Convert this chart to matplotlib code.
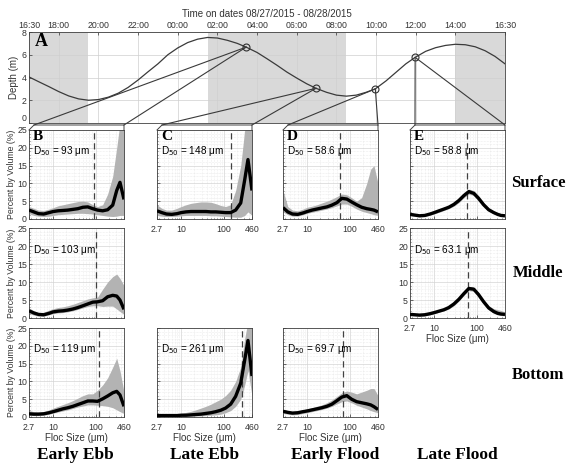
import matplotlib.pyplot as plt
from matplotlib.lines import Line2D
from matplotlib.ticker import NullFormatter, MultipleLocator

plt.rcParams['font.family'] = ['Liberation Sans', 'DejaVu Sans']

# ---- panel A: tidal depth (hours after 16:30 on 08/27) ----
tide_t = [0, 0.5, 1, 1.5, 2, 2.5, 3, 3.5, 4, 4.5, 5, 5.5, 6, 6.5, 7, 7.5, 8, 8.5, 9,
          9.5, 10, 10.5, 10.95, 11.5, 12, 12.5, 13, 13.5, 14, 14.47, 15, 15.5, 16,
          16.5, 17, 17.46, 18, 18.5, 19, 19.47, 20, 20.5, 21, 21.5, 22, 22.5, 23,
          23.5, 24]
tide_d = [4.05, 3.62, 3.2, 2.76, 2.38, 2.12, 2.0, 2.06, 2.27, 2.62, 3.13, 3.78, 4.5,
          5.2, 6.0, 6.6, 7.07, 7.37, 7.52, 7.47, 7.27, 7.0, 6.67, 6.2, 5.65, 5.08,
          4.48, 3.95, 3.45, 3.05, 2.7, 2.45, 2.36, 2.45, 2.7, 3.0, 3.7, 4.45, 5.2,
          5.77, 6.3, 6.62, 6.82, 6.92, 6.88, 6.7, 6.35, 5.85, 5.2]
night_start = [0, 9.05, 21.5]
night_end = [3.0, 16.0, 24]
sample_t = [10.95, 14.47, 17.46, 19.47]
sample_d = [6.67, 3.05, 3.0, 5.77]
time_ticks = [0, 1.5, 3.5, 5.5, 7.5, 9.5, 11.5, 13.5, 15.5, 17.5, 19.5, 21.5, 24]
time_labels = ['16:30', '18:00', '20:00', '22:00', '00:00', '02:00', '04:00',
               '06:00', '08:00', '10:00', '12:00', '14:00', '16:30']

# ---- floc size distributions ----
sizes = [2.7, 3.5, 4.5, 6, 8, 10, 13, 17, 22, 29, 38, 50, 65, 85, 110, 145, 190,
         250, 310, 370, 460]

b_surf_mean = [2.5, 2.0, 1.5, 1.4, 1.8, 2.1, 2.3, 2.4, 2.5, 2.7, 2.9, 3.3, 3.4, 2.9, 2.5, 2.3, 2.6, 3.9, 8.0, 10.3, 5.5]
b_surf_hi = [3.5, 3.0, 2.5, 2.4, 2.8, 3.2, 3.7, 4.0, 4.3, 4.6, 4.9, 5.0, 4.8, 4.0, 3.5, 4.0, 7.0, 12.0, 20.0, 27.0, 27.0]
b_surf_lo = [1.5, 1.0, 0.8, 0.7, 0.8, 1.0, 1.2, 1.3, 1.4, 1.5, 1.6, 1.6, 1.5, 1.4, 1.2, 1.0, 0.8, 0.7, 0.8, 1.0, 1.0]

c_surf_mean = [2.3, 1.8, 1.4, 1.3, 1.5, 1.8, 2.0, 2.1, 2.1, 2.1, 2.1, 2.0, 2.0, 1.9, 1.8, 1.8, 2.5, 4.5, 11.0, 16.7, 8.0]
c_surf_hi = [4.0, 3.0, 2.5, 2.5, 3.0, 3.5, 4.0, 4.4, 4.6, 4.8, 4.8, 4.7, 4.3, 3.8, 3.5, 4.0, 8.0, 15.0, 25.0, 27.0, 27.0]
c_surf_lo = [1.0, 0.8, 0.7, 0.7, 0.8, 0.9, 1.0, 1.0, 1.0, 1.0, 1.0, 0.9, 0.9, 0.8, 0.7, 0.6, 0.5, 0.5, 1.0, 2.0, 1.0]

d_surf_mean = [3.2, 2.0, 1.4, 1.3, 1.7, 2.1, 2.5, 2.8, 3.1, 3.4, 3.9, 4.6, 5.8, 5.6, 4.8, 4.0, 3.3, 2.9, 2.7, 2.5, 2.0]
d_surf_hi = [8.0, 3.5, 2.5, 2.3, 2.8, 3.3, 3.6, 4.0, 4.5, 5.0, 5.6, 6.3, 7.0, 6.8, 6.0, 5.0, 6.0, 10.0, 14.0, 15.0, 10.0]
d_surf_lo = [2.0, 1.2, 0.8, 0.8, 1.2, 1.6, 1.9, 2.2, 2.5, 2.8, 3.2, 3.7, 4.2, 4.2, 3.6, 2.8, 2.2, 1.8, 1.5, 1.2, 1.0]

e_surf_mean = [1.3, 1.1, 0.9, 1.0, 1.4, 1.8, 2.3, 2.8, 3.3, 4.1, 5.2, 6.6, 7.7, 7.2, 5.8, 4.0, 2.6, 1.8, 1.3, 1.0, 0.9]
e_surf_hi = [1.8, 1.5, 1.3, 1.4, 1.8, 2.3, 2.8, 3.3, 3.8, 4.7, 5.8, 7.2, 8.4, 8.0, 6.6, 4.6, 3.1, 2.2, 1.7, 1.5, 1.4]
e_surf_lo = [1.0, 0.8, 0.6, 0.7, 1.1, 1.4, 1.9, 2.4, 2.9, 3.6, 4.6, 6.0, 7.0, 6.6, 5.2, 3.5, 2.2, 1.5, 1.0, 0.7, 0.6]

b_mid_mean = [2.0, 1.4, 1.0, 0.9, 1.3, 1.7, 1.9, 2.0, 2.2, 2.5, 2.9, 3.4, 3.9, 4.4, 4.5, 4.8, 5.9, 6.3, 6.1, 5.0, 2.4]
b_mid_hi = [2.8, 2.0, 1.5, 1.6, 2.2, 2.6, 2.9, 3.1, 3.4, 3.8, 4.3, 4.8, 5.3, 5.6, 5.8, 8.0, 10.0, 11.5, 12.2, 11.0, 9.0]
b_mid_lo = [1.3, 0.8, 0.5, 0.5, 0.9, 1.2, 1.4, 1.5, 1.7, 2.0, 2.4, 2.8, 3.2, 3.4, 3.4, 3.2, 3.3, 3.3, 2.5, 1.8, 1.0]

e_mid_mean = [1.0, 0.9, 0.8, 0.9, 1.2, 1.5, 1.9, 2.3, 2.9, 3.9, 5.2, 6.8, 8.2, 8.0, 6.5, 4.5, 2.8, 1.8, 1.3, 1.1, 1.0]
e_mid_hi = [1.4, 1.3, 1.2, 1.3, 1.6, 1.9, 2.3, 2.7, 3.3, 4.4, 5.7, 7.3, 8.8, 8.6, 7.1, 5.1, 3.4, 2.6, 2.3, 2.1, 1.6]
e_mid_lo = [0.7, 0.6, 0.5, 0.6, 0.9, 1.2, 1.6, 2.0, 2.5, 3.4, 4.7, 6.3, 7.6, 7.4, 6.0, 4.0, 2.3, 1.3, 0.9, 0.7, 0.6]

b_bot_mean = [0.9, 0.8, 0.8, 0.9, 1.2, 1.5, 1.9, 2.3, 2.6, 3.0, 3.5, 4.0, 4.5, 4.5, 4.4, 5.1, 5.9, 6.8, 7.2, 6.2, 3.0]
b_bot_hi = [1.8, 1.5, 1.4, 1.5, 2.0, 2.5, 3.0, 3.5, 4.0, 4.6, 5.3, 6.0, 6.5, 6.5, 7.5, 9.0, 11.0, 14.0, 16.5, 13.0, 7.0]
b_bot_lo = [0.5, 0.4, 0.4, 0.5, 0.8, 1.1, 1.4, 1.7, 2.0, 2.4, 2.8, 3.1, 3.4, 3.4, 3.3, 3.2, 3.0, 2.6, 2.0, 1.5, 1.0]

c_bot_mean = [0.4, 0.4, 0.4, 0.4, 0.4, 0.5, 0.5, 0.6, 0.7, 0.8, 1.0, 1.2, 1.5, 1.9, 2.5, 3.6, 5.8, 9.5, 16.0, 21.5, 11.5]
c_bot_hi = [0.6, 0.6, 0.6, 0.7, 0.8, 1.0, 1.3, 1.6, 2.0, 2.5, 3.0, 3.6, 4.3, 5.0, 6.0, 7.5, 10.0, 14.0, 22.0, 27.0, 27.0]
c_bot_lo = [0.1, 0.1, 0.1, 0.1, 0.1, 0.2, 0.2, 0.2, 0.3, 0.3, 0.4, 0.5, 0.6, 0.8, 1.2, 1.8, 3.0, 5.0, 9.0, 13.0, 6.0]

d_bot_mean = [1.6, 1.3, 1.1, 1.2, 1.5, 1.7, 2.0, 2.3, 2.6, 3.0, 3.6, 4.6, 5.6, 6.0, 5.0, 4.3, 4.0, 3.7, 3.4, 2.9, 2.1]
d_bot_hi = [2.2, 1.8, 1.5, 1.6, 2.0, 2.3, 2.6, 3.0, 3.4, 4.0, 4.8, 5.8, 6.8, 7.3, 7.0, 6.5, 7.0, 7.5, 8.0, 8.0, 6.0]
d_bot_lo = [1.0, 0.8, 0.6, 0.7, 1.0, 1.2, 1.5, 1.8, 2.1, 2.5, 3.0, 3.7, 4.3, 4.5, 4.0, 3.3, 2.8, 2.3, 1.8, 1.5, 1.2]

d50_labels = ['93', '148', '58.6', '58.8', '103', '63.1', '119', '261', '69.7']
d50_values = [93, 148, 58.6, 58.8, 103, 63.1, 119, 261, 69.7]

size_ticks = [2.7, 10, 100, 460]
size_tick_labels = ['2.7', '10', '100', '460']
row_names = ['Surface', 'Middle', 'Bottom']
col_names = ['Early Ebb', 'Late Ebb', 'Early Flood', 'Late Flood']

W, H = 576, 472
fig = plt.figure(figsize=(W / 100, H / 100), dpi=100)


def rect(l, t, r, b):
    return [l / W, 1 - b / H, (r - l) / W, (b - t) / H]


def fpt(x, y):
    return (x / W, 1 - y / H)


edge = '#404040'
tick_c = '#333333'

# panel A
axA = fig.add_axes(rect(29, 32, 505, 123))
for s, e in zip(night_start, night_end):
    axA.axvspan(s, e, color='#d9d9d9', lw=0, zorder=0)
axA.plot(tide_t, tide_d, color='#3a3a3a', lw=0.9, zorder=3)
axA.plot(sample_t, sample_d, 'o', mfc='none', mec='#303030', ms=5, mew=0.8, zorder=4)
axA.set_xlim(0, 24)
axA.set_ylim(0, 8)
axA.set_yticks([0, 2, 4, 6, 8])
axA.set_xticks(time_ticks)
axA.set_xticklabels(time_labels)
axA.xaxis.tick_top()
axA.grid(True, color='#cfcfcf', lw=0.5, zorder=1)
axA.set_axisbelow(True)
axA.tick_params(direction='in', length=2, width=0.5, labelsize=6.3, colors=tick_c, pad=1.5)
axA.get_yticklabels()[0].set_va('bottom')
for sp in axA.spines.values():
    sp.set_color(edge)
    sp.set_linewidth(0.6)
axA.set_ylabel('Depth (m)', fontsize=7, color=tick_c, labelpad=2)
axA.text(0.012, 0.9, 'A', transform=axA.transAxes, fontsize=13, fontweight='bold',
         family='Liberation Serif', va='center', ha='left')
fig.text(267 / W, 1 - 14 / H, 'Time on dates 08/27/2015 - 08/28/2015', fontsize=7,
         ha='center', va='center', color=tick_c)

# small panels
cols = {'B': (29, 124), 'C': (157, 252), 'D': (283, 378), 'E': (410, 505)}
rows = [(130, 219), (228, 318), (328, 417)]

panels = [
    ('B', 0, b_surf_mean, b_surf_hi, b_surf_lo),
    ('C', 0, c_surf_mean, c_surf_hi, c_surf_lo),
    ('D', 0, d_surf_mean, d_surf_hi, d_surf_lo),
    ('E', 0, e_surf_mean, e_surf_hi, e_surf_lo),
    ('B', 1, b_mid_mean, b_mid_hi, b_mid_lo),
    ('E', 1, e_mid_mean, e_mid_hi, e_mid_lo),
    ('B', 2, b_bot_mean, b_bot_hi, b_bot_lo),
    ('C', 2, c_bot_mean, c_bot_hi, c_bot_lo),
    ('D', 2, d_bot_mean, d_bot_hi, d_bot_lo),
]
xtick_panels = [('C', 0), ('D', 0), ('E', 1), ('B', 2), ('C', 2), ('D', 2)]
xlabel_panels = [('E', 1), ('B', 2), ('C', 2), ('D', 2)]

for i, (col, row, mean, hi, lo) in enumerate(panels):
    l, r = cols[col]
    t, b = rows[row]
    ax = fig.add_axes(rect(l, t, r, b))
    ax.fill_between(sizes, lo, hi, color='#b3b3b3', lw=0, zorder=2)
    ax.plot(sizes, mean, color='black', lw=2.4, zorder=4, solid_capstyle='butt')
    ax.axvline(d50_values[i], color='#404040', lw=0.9, ls=(0, (5, 3)), zorder=3)
    ax.set_xscale('log')
    ax.set_xlim(2.7, 460)
    ax.set_ylim(0, 25)
    ax.set_xticks(size_ticks)
    ax.set_xticklabels(size_tick_labels)
    ax.xaxis.set_minor_formatter(NullFormatter())
    ax.set_yticks([0, 5, 10, 15, 20, 25])
    ax.yaxis.set_minor_locator(MultipleLocator(1))
    ax.grid(True, which='major', color='#d4d4d4', lw=0.5)
    ax.grid(True, which='minor', color='#dedede', lw=0.4, ls=':')
    ax.set_axisbelow(True)
    ax.tick_params(which='both', direction='in', length=2, width=0.5, labelsize=6.3,
                   colors=tick_c, pad=1.5)
    ax.tick_params(axis='x', pad=4)
    ax.tick_params(which='minor', length=1)
    for sp in ax.spines.values():
        sp.set_color(edge)
        sp.set_linewidth(0.6)
    if (col, row) not in xtick_panels:
        ax.tick_params(labelbottom=False)
    if (col, row) in xlabel_panels:
        ax.set_xlabel('Floc Size (μm)', fontsize=7, color=tick_c, labelpad=1)
    if col == 'B':
        ax.set_ylabel('Percent by Volume (%)', fontsize=6.3, color=tick_c, labelpad=1)
    elif not (col == 'E' and row == 1):
        ax.tick_params(labelleft=False)
    ax.text(0.04, 0.76, 'D$_{50}$ = ' + d50_labels[i] + ' μm', transform=ax.transAxes,
            fontsize=7.2, va='center', ha='left', zorder=5)
    if row == 0:
        ax.text(0.04, 0.995, col, transform=ax.transAxes, fontsize=11, fontweight='bold',
                family='Liberation Serif', va='top', ha='left', zorder=5)

# lids and connector lines from the sample circles to the surface panels
lid = 5
for k, col in enumerate(['B', 'C', 'D', 'E']):
    l, r = cols[col]
    t = rows[0][0]
    cx, cy = fig.transFigure.inverted().transform(
        axA.transData.transform((sample_t[k], sample_d[k])))
    px_pts = [(l, t), (l + lid, t - lid), (r, t - lid), (r, t)]
    fig.add_artist(Line2D([fpt(*p)[0] for p in px_pts], [fpt(*p)[1] for p in px_pts],
                          color=edge, lw=0.7, transform=fig.transFigure))
    for px, py in [(l + lid, t - lid), (r, t - lid)]:
        fx, fy = fpt(px, py)
        fig.add_artist(Line2D([cx, fx], [cy, fy], color='#3a3a3a', lw=0.8,
                              transform=fig.transFigure, zorder=5))

# row and column captions
for name, y in zip(row_names, [183, 273, 375]):
    fig.text(538 / W, 1 - y / H, name, fontsize=12, fontweight='bold',
             family='Liberation Serif', ha='center', va='center')
for name, x in zip(col_names, [75, 205, 335, 457]):
    fig.text(x / W, 1 - 455 / H, name, fontsize=12.5, fontweight='bold',
             family='Liberation Serif', ha='center', va='center')

fig.savefig('out.png', dpi=100)
